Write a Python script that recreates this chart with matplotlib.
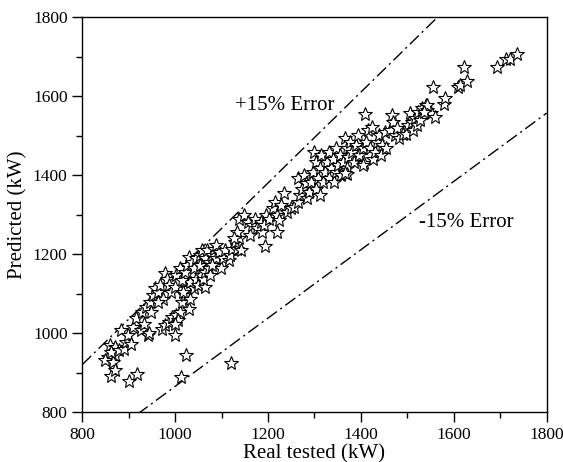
import matplotlib
matplotlib.use("Agg")
import matplotlib.pyplot as plt
import numpy as np
from matplotlib.ticker import MultipleLocator

# points (real tested, predicted) in kW
real = [856, 849, 860, 871, 867, 870, 863, 879, 883, 890, 894, 898, 904, 910, 916,
        927, 933, 941, 943, 929, 937, 945, 952, 956, 964, 968, 979, 983, 987, 975,
        964, 991, 999, 948,
        972, 979, 987, 993, 1002, 1010, 1006, 999, 1014, 1022, 1026, 1018, 1030, 1033,
        1041, 1033, 1045, 1049, 1055, 1064, 1060,
        1002, 1010, 1014, 1022, 1026, 1030, 1037, 1041, 1045, 1053, 1053, 1057, 1064,
        1068, 1072, 1080, 1084, 1087, 1087, 1095, 1099, 1103, 1107, 1115, 1118, 1122,
        1134, 1130, 1138, 1142, 1134, 1138, 1149, 1157, 1161, 1165, 1172, 1176, 1184,
        1188, 1195, 1192, 1203, 1211, 1215, 1219, 1219, 1227, 1234, 1223, 1242, 1250,
        1257, 1064, 1072, 1076, 1080, 1126,
        1265, 1269, 1273, 1265, 1277, 1281, 1285, 1288, 1292, 1296, 1300, 1304, 1304,
        1308, 1312, 1312, 1315, 1319, 1323, 1327, 1331, 1331, 1335, 1339, 1342, 1346,
        1346, 1350, 1354, 1358, 1362, 1366, 1370, 1370, 1373, 1377, 1371, 1381, 1385,
        1389, 1393, 1397, 1404, 1406, 1412, 1416, 1420, 1424, 1427, 1431, 1435, 1439,
        1443, 1445, 1451, 1455, 1462, 1466, 1470, 1474, 1482, 1478, 1490, 1498, 1501,
        1509, 1505, 1513, 1517, 1521, 1524, 1528, 1532, 1540, 1543, 1551, 1366, 1404,
        1408, 1555, 1560, 1543, 1536, 1580, 1582, 1609, 1613, 1628, 1621, 1694, 1713,
        1720, 1737,
        863, 871, 900, 919, 1012, 1023, 1121, 1000, 1193]
predicted = [940, 931, 969, 944, 927, 965, 952, 956, 1007, 961, 978, 994, 973, 1016, 1037,
             1007, 1024, 994, 999, 1054, 1066, 1079, 1096, 1113, 1104, 1121, 1151, 1138, 1121, 1087,
             1079, 1104, 1117, 1054,
             1011, 1020, 1028, 1041, 1045, 1054, 1032, 1024, 1079, 1096, 1113, 1104, 1062, 1087,
             1113, 1130, 1138, 1121, 1147, 1117, 1138,
             1147, 1164, 1134, 1155, 1172, 1193, 1180, 1164, 1189, 1197, 1172, 1210, 1189,
             1210, 1180, 1197, 1214, 1223, 1189, 1206, 1164, 1189, 1210, 1184, 1197, 1214,
             1214, 1231, 1240, 1210, 1256, 1290, 1299, 1282, 1248, 1273, 1290, 1265, 1282,
             1256, 1299, 1273, 1290, 1316, 1333, 1299, 1256, 1324, 1354, 1286, 1307, 1316,
             1320, 1155, 1164, 1147, 1172, 1240,
             1333, 1349, 1366, 1392, 1400, 1379, 1341, 1358, 1383, 1409, 1459, 1434, 1366,
             1392, 1417, 1349, 1451, 1383, 1409, 1434, 1459, 1392, 1417, 1442, 1383, 1468,
             1409, 1425, 1451, 1400, 1434, 1493, 1417, 1468, 1447, 1485, 1404, 1459, 1434,
             1476, 1501, 1451, 1468, 1430, 1485, 1514, 1468, 1523, 1442, 1459, 1485, 1501,
             1451, 1476, 1509, 1468, 1514, 1552, 1535, 1501, 1493, 1518, 1505, 1505, 1527,
             1535, 1556, 1514, 1544, 1527, 1561, 1540, 1569, 1578, 1565, 1556, 1405, 1426,
             1554, 1623, 1548, 1578, 1561, 1579, 1596, 1622, 1628, 1637, 1674, 1674, 1694,
             1694, 1707,
             891, 907, 879, 897, 889, 945, 925, 994, 1220]

upper_ratio = 1.15
lower_ratio = 0.865

plt.rcParams['font.family'] = ['Liberation Serif', 'DejaVu Serif']

fig = plt.figure(figsize=(5.63, 4.62), dpi=100)
ax = fig.add_axes([0.146, 0.108, 0.825, 0.855])

xs = np.array([800, 1800])
ax.plot(xs, upper_ratio * xs, color='black', lw=1.0, linestyle=(0, (9, 3, 1.5, 3)))
ax.plot(xs, lower_ratio * xs, color='black', lw=1.0, linestyle=(0, (9, 3, 1.5, 3)))

ax.plot(real, predicted, linestyle='none', marker='*', markersize=10,
        markerfacecolor='white', markeredgecolor='black', markeredgewidth=0.8)

ax.text(1130, 1576, '+15% Error', fontsize=15, va='center', ha='left')
ax.text(1526, 1280, '-15% Error', fontsize=15, va='center', ha='left')

ax.set_xlim(800, 1800)
ax.set_ylim(800, 1800)
ax.xaxis.set_major_locator(MultipleLocator(200))
ax.xaxis.set_minor_locator(MultipleLocator(100))
ax.yaxis.set_major_locator(MultipleLocator(200))
ax.yaxis.set_minor_locator(MultipleLocator(100))
ax.tick_params(which='major', direction='out', length=7, width=1, labelsize=12.5)
ax.tick_params(which='minor', direction='out', length=4, width=1)
ax.tick_params(top=False, right=False, which='both')
for s in ax.spines.values():
    s.set_linewidth(1)

ax.set_xlabel('Real tested (kW)', fontsize=15, labelpad=1)
ax.set_ylabel('Predicted (kW)', fontsize=15, labelpad=4)

fig.savefig('out.png', dpi=100)
